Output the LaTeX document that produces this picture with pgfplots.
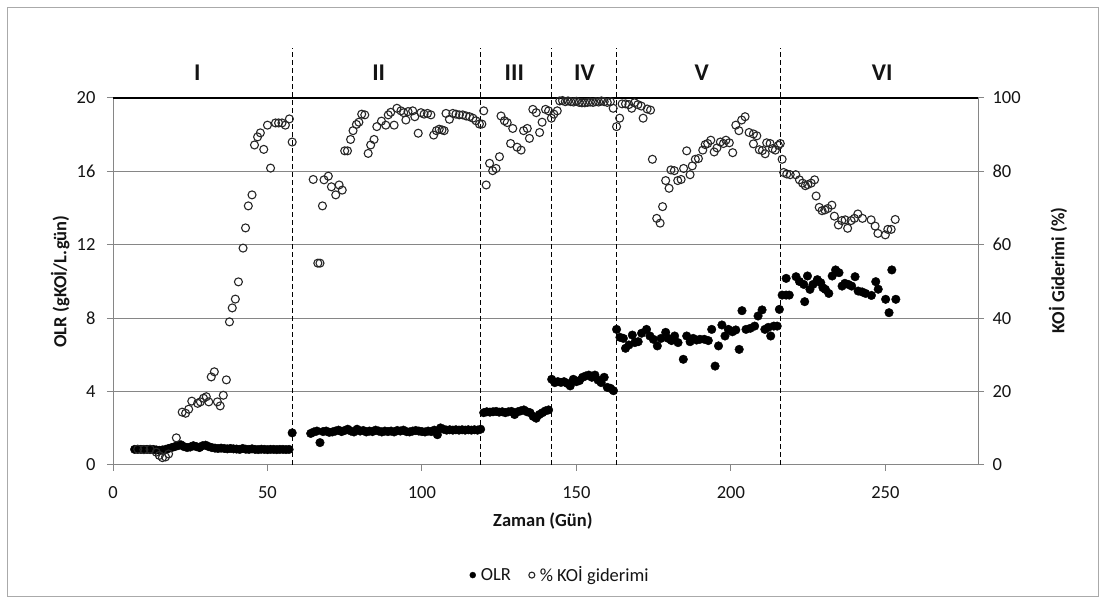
\documentclass[border=0pt]{standalone}
\usepackage{pgfplots}
\pgfplotsset{compat=1.18}
\usepackage{fontspec}
\setmainfont{Carlito}
\definecolor{axgray}{RGB}{134,134,134}
\definecolor{framegray}{RGB}{170,170,170}
\definecolor{txt}{RGB}{20,20,20}

% OLR (gKOI/L.gun) against time (day)
\pgfplotstableread{
x y
7 0.85
8 0.85
9 0.85
10 0.85
11 0.85
12 0.84
13 0.85
14 0.82
15 0.80
16 0.82
17 0.85
18 0.90
19 0.95
20 1.00
21 1.05
22 1.10
23 1.00
24 0.95
25 0.98
26 1.05
27 1.00
28 0.95
29 1.05
30 1.08
31 1.00
32 0.95
33 0.92
34 0.90
35 0.92
36 0.90
37 0.88
38 0.90
39 0.88
40 0.87
41 0.85
42 0.90
43 0.86
44 0.85
45 0.88
46 0.85
47 0.84
48 0.86
49 0.85
50 0.84
51 0.85
52 0.85
53 0.84
54 0.85
55 0.85
56 0.84
57 0.85
58 1.75
64 1.72
65 1.80
66 1.85
67 1.22
68 1.82
69 1.85
70 1.78
71 1.80
72 1.85
73 1.90
74 1.82
75 1.88
76 1.95
77 1.85
78 1.80
79 1.95
80 1.85
81 1.88
82 1.80
83 1.85
84 1.82
85 1.90
86 1.85
87 1.80
88 1.85
89 1.82
90 1.85
91 1.80
92 1.88
93 1.85
94 1.90
95 1.82
96 1.80
97 1.85
98 1.88
99 1.85
100 1.82
101 1.80
102 1.85
103 1.82
104 1.90
105 1.65
106 2.02
107 1.95
108 1.90
109 1.92
110 1.90
111 1.92
112 1.90
113 1.92
114 1.90
115 1.92
116 1.90
117 1.92
118 1.90
119 1.95
120 2.85
121 2.90
122 2.88
123 2.90
124 2.92
125 2.88
126 2.90
127 2.85
128 2.90
129 2.92
130 2.75
131 2.90
132 2.95
133 3.00
134 2.90
135 2.85
136 2.65
137 2.55
138 2.75
139 2.85
140 2.95
141 3.00
142 4.67
143 4.49
144 4.54
145 4.50
146 4.54
147 4.45
148 4.31
149 4.67
150 4.54
151 4.60
152 4.78
153 4.85
154 4.90
155 4.78
156 4.90
157 4.63
158 4.49
159 4.78
160 4.23
161 4.18
162 4.05
163 7.39
164.1 6.96
165.2 6.90
165.9 6.36
167 6.54
168.1 7.08
168.9 6.67
170 6.72
171.1 7.18
172.7 7.39
173.8 7.03
174.9 6.85
176.2 6.49
177.4 6.90
178.9 7.23
179.7 6.90
180.8 6.78
181.8 7.03
182.9 6.67
184.6 5.76
185.7 7.03
186.8 6.72
187.8 6.90
188.9 6.81
190 6.85
191.4 6.85
192.7 6.78
193.8 7.39
194.9 5.39
196 6.49
197.1 7.63
198.1 7.03
199.2 7.39
200.5 7.26
201.6 7.36
202.7 6.30
203.6 8.41
204.9 7.39
206.3 7.45
207.7 7.57
208.8 8.12
210.1 8.45
211 7.39
212.1 7.50
212.9 7.03
213.9 7.57
215 7.57
215.7 8.48
216.6 9.26
217.9 9.26
218.9 9.26
217.9 10.17
221.1 10.26
222.2 10.00
223.9 8.90
223.6 9.84
224.8 10.30
225.6 9.57
226.6 9.84
228 10.10
229.1 9.93
229.8 9.66
230.6 9.57
231.7 9.35
232.8 10.30
233.9 10.63
235 10.48
236 9.75
236.9 9.90
238 9.84
239.1 9.75
240.2 10.26
241.2 9.48
242.5 9.43
243.6 9.35
245.5 9.24
246.9 9.99
247.7 9.58
250.1 9.03
251.2 8.30
252.1 10.63
253.4 9.03
}\olrdata

% KOI removal (%) against time (day)
\pgfplotstableread{
x y
8 4.3
10 4.2
12 4.3
14 3.5
15 2.6
16 2.0
17 2.2
18 3.0
20.5 7.4
22.4 14.4
23.5 14.1
24.5 15.2
25.5 17.4
27.4 16.8
28.3 17.2
29.3 18.2
30.2 18.6
31.0 17.2
31.8 24.0
32.8 25.4
33.8 17.2
34.7 16.1
35.7 19.0
36.7 23.2
37.7 39.0
38.6 42.8
39.6 45.2
40.6 49.9
42.1 59.1
42.9 64.6
43.8 70.6
45.0 73.6
45.8 87.2
46.8 89.4
47.7 90.5
48.8 86.0
50.0 92.6
51.0 80.9
52.6 93.2
53.6 93.2
54.7 93.2
55.8 92.6
57.1 94.3
58.0 88.0
64.8 77.8
66.3 55.0
67.0 55.0
67.8 70.6
68.3 77.7
69.7 78.7
70.7 75.8
72.1 73.6
73.2 76.3
74.2 74.9
75.0 85.6
75.9 85.6
76.9 88.7
77.7 91.1
78.8 92.8
79.6 93.4
80.5 95.6
81.5 95.4
82.6 84.9
83.4 87.2
84.5 88.7
85.4 92.2
86.9 93.7
88.3 92.6
89.1 95.4
89.9 96.1
91.0 92.6
91.9 97.2
93.2 96.5
94.1 96.0
94.8 94.0
95.5 96.3
97.0 96.5
97.7 94.9
98.8 90.4
99.7 96.0
100.7 95.6
101.8 95.8
102.9 95.4
103.8 89.9
104.7 91.1
105.6 91.5
106.5 91.3
107.2 91.1
107.8 95.8
108.9 94.2
110.0 95.8
111.0 95.6
112.1 95.4
113.2 95.4
114.3 95.1
115.4 94.9
116.5 94.5
117.5 93.8
118.6 92.9
119.4 92.9
120.0 96.5
120.8 76.3
121.9 82.2
122.9 80.2
124.0 80.8
125.1 84.0
125.6 95.1
126.7 93.8
127.6 93.3
128.7 87.6
129.4 91.7
130.8 86.6
132.1 85.8
132.9 91.1
134.1 91.7
134.8 89.0
135.9 96.9
137.0 96.0
138.1 90.6
138.9 93.4
140.0 96.9
141.0 96.5
141.9 94.5
142.7 95.6
143.8 96.5
144.6 99.2
145.5 99.3
146.4 99.0
147.3 99.2
148.2 99.0
149.1 98.9
150.0 99.1
150.9 98.8
151.8 98.7
152.7 98.7
153.6 98.8
154.5 98.9
155.4 98.8
156.3 99.0
157.2 98.9
158.1 99.2
159.0 99.0
160.0 98.8
161.0 99.0
161.9 97.2
163.0 92.2
164.0 94.5
164.8 98.4
165.9 98.4
167.0 98.2
167.9 97.2
168.8 98.7
169.9 98.2
171.0 97.8
171.6 94.5
172.9 97.0
174.0 96.7
174.6 83.3
176.0 67.2
177.1 65.9
177.9 70.4
178.9 77.5
180.0 75.4
180.6 80.4
181.7 80.2
182.8 77.5
183.9 77.8
184.7 80.8
185.7 85.6
186.8 79.1
187.5 81.5
188.5 83.3
189.5 83.5
190.9 85.8
191.7 87.3
192.5 87.6
193.5 88.5
194.6 85.3
195.5 86.4
196.6 88.0
197.6 87.6
198.4 88.5
199.5 87.8
200.6 85.1
201.6 92.6
202.6 91.1
203.5 94.0
204.6 94.9
205.9 90.6
207.3 90.2
207.3 87.5
208.4 89.7
209.2 85.9
210.2 85.7
211.1 84.8
211.6 87.8
212.7 87.6
213.5 86.2
214.4 85.8
215.4 87.1
216.0 87.6
216.6 83.3
217.1 79.7
218.1 79.3
219.2 79.1
221.0 79.1
222.2 77.7
223.2 76.8
224.1 76.1
224.9 76.4
226.0 76.8
227.1 77.7
227.6 73.3
228.6 70.2
229.5 69.3
230.4 69.5
231.4 69.9
232.7 70.8
233.5 67.8
234.8 65.4
235.9 66.6
237.0 66.8
237.8 64.5
238.9 66.6
240.0 67.2
241.1 68.4
242.6 67.2
245.4 66.8
246.7 65.1
247.6 63.1
250.0 62.7
250.8 64.2
251.9 64.2
253.2 66.9
}\koidata

\begin{document}
\begin{tikzpicture}
\path[use as bounding box] (0pt,0pt) rectangle (1105pt,604pt);
\draw[framegray, line width=1pt] (7pt,7pt) rectangle (1098pt,596pt);

\pgfplotsset{
  every tick label/.append style={font=\fontsize{18.5}{20}\selectfont, text=txt},
  /pgf/number format/assume math mode=true,
}

% left axis: OLR, phase limits, gridlines
\begin{axis}[
  at={(113pt,139pt)}, anchor=south west,
  width=865pt, height=367pt, scale only axis,
  xmin=0, xmax=280, ymin=0, ymax=20,
  xtick={0,50,...,250}, ytick={0,4,...,20},
  axis x line*=bottom, axis y line*=left,
  axis line style={axgray, line width=1pt, -},
  tick style={axgray, line width=1pt},
  tick align=outside, major tick length=6pt,
  xticklabel style={yshift=-12pt},
  yticklabel style={xshift=-8pt},
  ymajorgrids, grid style={axgray, line width=1pt},
  clip=false,
  xlabel={\bfseries Zaman (Gün)},
  ylabel={\bfseries OLR (gKOİ/L.gün)},
  every axis x label/.style={at={(axis description cs:0.497,-0.153)}, anchor=center,
    font=\fontsize{18.5}{20}\selectfont, text=txt},
  every axis y label/.style={at={(axis description cs:-0.061,0.5)}, rotate=90, anchor=center,
    font=\fontsize{18.5}{20}\selectfont, text=txt},
]
\draw[black, line width=1.4pt] (rel axis cs:0,1) -- (rel axis cs:1,1);
\addplot[black, line width=1.2pt, dash pattern=on 5pt off 3pt] coordinates {(58,0) (58,22.72)};
\addplot[black, line width=1.2pt, dash pattern=on 5pt off 3pt] coordinates {(119,0) (119,22.72)};
\addplot[black, line width=1.2pt, dash pattern=on 5pt off 3pt] coordinates {(142,0) (142,22.72)};
\addplot[black, line width=1.2pt, dash pattern=on 5pt off 3pt] coordinates {(163,0) (163,22.72)};
\addplot[black, line width=1.2pt, dash pattern=on 5pt off 3pt] coordinates {(216,0) (216,22.72)};
\begin{scope}[every node/.style={font=\fontsize{24}{26}\selectfont\bfseries, text=txt}]
\node at (axis cs:27.3,21.36) {I};
\node at (axis cs:86,21.36) {II};
\node at (axis cs:129.9,21.36) {III};
\node at (axis cs:152.6,21.36) {IV};
\node at (axis cs:190.6,21.36) {V};
\node at (axis cs:249,21.36) {VI};
\end{scope}
\addplot[only marks, mark=*, mark size=4.3pt, black, mark options={fill=black}] table {\olrdata};
\end{axis}

% right axis: KOI removal
\begin{axis}[
  at={(113pt,139pt)}, anchor=south west,
  width=865pt, height=367pt, scale only axis,
  xmin=0, xmax=280, ymin=0, ymax=100,
  ytick={0,20,...,100},
  axis x line=none, axis y line*=right,
  axis line style={axgray, line width=1pt, -},
  tick style={axgray, line width=1pt},
  tick align=outside, major tick length=6pt,
  yticklabel style={xshift=5pt},
  clip=false,
  ylabel={\bfseries KOİ Giderimi (\%)},
  every axis y label/.style={at={(axis description cs:1.0925,0.53)}, rotate=90, anchor=center,
    font=\fontsize{18.5}{20}\selectfont, text=txt},
  legend style={at={(axis description cs:0.517,-0.30)}, anchor=center, draw=none,
    font=\fontsize{18.5}{20}\selectfont, text=txt, legend columns=2,
    /tikz/every odd column/.append style={column sep=3pt},
    /tikz/every even column/.append style={column sep=16pt}},
  legend image post style={mark size=3pt},
  legend image code/.code={\draw[#1] plot coordinates {(0pt,0pt)};},
]
\addlegendimage{only marks, mark=*, black, mark options={fill=black}}
\addlegendentry{OLR}
\addplot[only marks, mark=o, mark size=4pt, black!85, mark options={line width=1.1pt}] table {\koidata};
\addlegendentry{\% KOİ giderimi}
\end{axis}
\end{tikzpicture}
\end{document}
